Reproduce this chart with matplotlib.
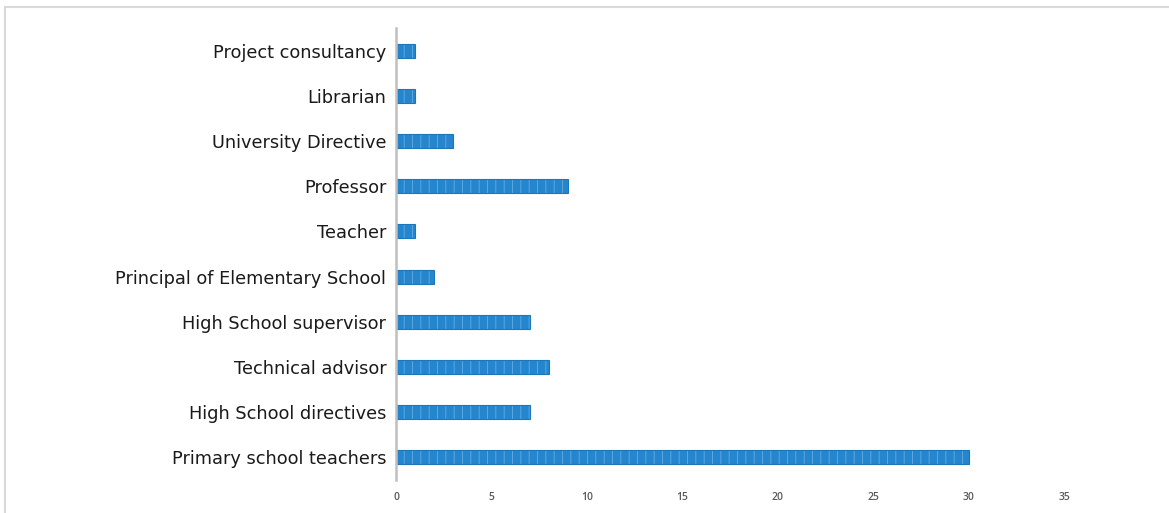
import matplotlib
matplotlib.use("Agg")
import matplotlib.pyplot as plt
from matplotlib.lines import Line2D

categories = [
    "Primary school teachers",
    "High School directives",
    "Technical advisor",
    "High School supervisor",
    "Principal of Elementary School",
    "Teacher",
    "Professor",
    "University Directive",
    "Librarian",
    "Project consultancy",
]
counts = [30, 7, 8, 7, 2, 1, 9, 3, 1, 1]
xticks = [0, 5, 10, 15, 20, 25, 30, 35]

plt.rcParams["hatch.linewidth"] = 0.7

fig = plt.figure(figsize=(11.69, 5.13), dpi=100)
ax = fig.add_axes([396 / 1169, 1 - 480 / 513, (1064 - 396) / 1169, (480 - 28) / 513])

ypos = list(range(len(categories)))
ax.barh(ypos, counts, height=0.31, color="#2585cd", edgecolor="#5ea7de",
        linewidth=0, hatch="||")
ax.barh(ypos, counts, height=0.31, facecolor="none", edgecolor="#1b76bb",
        linewidth=0.8)

ax.set_xlim(0, 35)
ax.set_ylim(-0.5, len(categories) - 0.5)
ax.set_yticks(ypos)
ax.set_yticklabels(categories, fontsize=12.8, color="#1a1a1a", family="DejaVu Sans")
ax.set_xticks(xticks)
ax.set_xticklabels([str(t) for t in xticks], fontsize=7.5, color="#595959",
                   family="Open Sans", fontweight="semibold")
ax.tick_params(axis="y", length=0, pad=7)
ax.tick_params(axis="x", length=0, pad=9)

for side in ("top", "right", "bottom"):
    ax.spines[side].set_visible(False)
ax.spines["left"].set_color("#bfbfbf")
ax.spines["left"].set_linewidth(1.8)

# light frame around the chart area
fig.add_artist(Line2D([5 / 1169, 1], [1 - 7 / 513, 1 - 7 / 513],
                      transform=fig.transFigure, color="#d9d9d9", lw=1.5))
fig.add_artist(Line2D([5 / 1169, 5 / 1169], [0, 1 - 7 / 513],
                      transform=fig.transFigure, color="#d9d9d9", lw=1.5))

fig.savefig("out.png", dpi=100)
